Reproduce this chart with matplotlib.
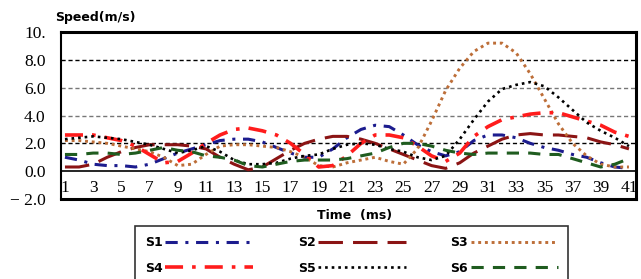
import numpy as np
import matplotlib
matplotlib.use('Agg')
import matplotlib.pyplot as plt

# speed readings (m/s) per time step
time_ms = np.arange(1, 42)
s1 = [1.0, 0.8, 0.5, 0.4, 0.4, 0.3, 0.5, 0.9, 1.3, 1.6, 1.9, 2.2, 2.3, 2.3, 2.1, 1.7, 1.3, 1.0, 1.0, 1.6,
      2.4, 3.0, 3.3, 3.2, 2.6, 1.9, 1.4, 1.1, 1.4, 2.2, 2.6, 2.6, 2.4, 2.0, 1.7, 1.5, 1.2, 1.0, 0.6, 0.3, 0.2]
s2 = [0.3, 0.3, 0.5, 1.0, 1.4, 1.7, 1.9, 1.9, 1.9, 1.8, 1.6, 1.0, 0.5, 0.1, 0.3, 0.9, 1.5, 2.0, 2.3, 2.5,
      2.5, 2.3, 2.0, 1.6, 1.2, 0.8, 0.4, 0.2, 0.6, 1.3, 1.8, 2.3, 2.6, 2.7, 2.6, 2.6, 2.5, 2.4, 2.1, 1.9, 1.6]
s3 = [2.2, 2.2, 2.1, 2.0, 1.8, 1.6, 1.4, 1.0, 0.4, 0.5, 1.2, 1.8, 1.9, 1.9, 1.8, 1.7, 1.4, 1.0, 0.4, 0.3,
      0.6, 0.8, 1.0, 0.7, 0.5, 1.6, 3.6, 5.8, 7.4, 8.6, 9.2, 9.2, 8.5, 7.0, 5.2, 3.4, 2.0, 1.1, 0.5, 0.3, 0.3]
s4 = [2.6, 2.6, 2.6, 2.4, 2.2, 1.8, 1.2, 0.6, 0.7, 1.3, 2.0, 2.6, 3.0, 3.1, 2.9, 2.6, 2.0, 1.2, 0.3, 0.4,
      1.1, 2.0, 2.6, 2.6, 2.4, 1.8, 1.1, 0.7, 1.3, 2.5, 3.2, 3.7, 3.9, 4.1, 4.2, 4.2, 3.9, 3.6, 3.3, 2.8, 2.5]
s5 = [2.3, 2.4, 2.5, 2.4, 2.3, 2.1, 1.9, 1.6, 1.3, 1.5, 1.8, 1.4, 0.8, 0.5, 0.5, 0.6, 0.9, 1.1, 1.2, 1.6,
      1.9, 2.0, 1.9, 1.6, 1.4, 1.0, 0.8, 1.1, 2.3, 3.7, 5.0, 5.9, 6.2, 6.4, 6.1, 5.3, 4.4, 3.5, 2.9, 2.4, 1.8]
s6 = [1.2, 1.2, 1.3, 1.3, 1.2, 1.3, 1.5, 1.7, 1.5, 1.4, 1.1, 1.0, 0.8, 0.4, 0.3, 0.5, 0.7, 0.8, 0.8, 0.8,
      0.9, 1.1, 1.3, 1.7, 2.0, 2.0, 1.8, 1.5, 1.3, 1.2, 1.3, 1.3, 1.3, 1.3, 1.2, 1.2, 0.9, 0.6, 0.3, 0.5, 0.9]

series_names = ['S1', 'S2', 'S3', 'S4', 'S5', 'S6']
series_vals = [s1, s2, s3, s4, s5, s6]
colors = ['#1c1c8e', '#8b1414', '#bd6e38', '#ff1c1c', '#000000', '#1f5c1f']
styles = [(0, (4, 2.5, 1, 2.5)), (0, (8, 3.3)), (0, (1, 1.3)),
          (0, (5, 2.5, 1, 2.5)), (0, (1, 1.5)), (0, (4, 3))]
widths = [2.2, 2.2, 2.1, 2.6, 1.9, 2.2]

ytick_vals = [-2, 0, 2, 4, 6, 8, 10]
ytick_text = ['\u2212 2.0', '0.0', '2.0', '4.0', '6.0', '8.0', '10.']
xtick_vals = list(range(1, 42, 2))

fig = plt.figure(figsize=(6.41, 2.79), dpi=100)
ax = fig.add_axes([61 / 641, 1 - 199 / 279, 575 / 641, 167 / 279])

# background grid lines
for g in [2, 4, 6, 8]:
    col = '#000000' if g in (2, 8) else '#777777'
    ax.axhline(g, color=col, lw=1.0, ls=(0, (3, 2)), zorder=1)
ax.axhline(0, color='black', lw=1.2, zorder=1)

lines = []
for name, vals, c, st, w in zip(series_names, series_vals, colors, styles, widths):
    ln, = ax.plot(time_ms, vals, color=c, ls=st, lw=w, label=name, zorder=3)
    lines.append(ln)

ax.set_xlim(0.72, 41.5)
ax.set_ylim(-2.0, 9.93)
ax.set_xticks([])
ax.set_yticks(ytick_vals)
ax.set_yticklabels(ytick_text, family='Liberation Serif', fontsize=12.5)
ax.tick_params(axis='y', length=0, pad=11)
for sp in ax.spines.values():
    sp.set_linewidth(2.2)
ax.spines['left'].set_linewidth(1.5)

# x labels sit inside the box, below the zero line
for t in xtick_vals:
    ax.text(t, -1.2, str(t), ha='center', va='center',
            family='Liberation Serif', fontsize=12.5)

fig.text(55 / 641, 1 - 17 / 279, 'Speed(m/s)', ha='left', va='center',
         fontsize=9, fontweight='bold')
fig.text(355 / 641, 1 - 215 / 279, 'Time  (ms)', ha='center', va='center',
         fontsize=9, fontweight='bold')

# legend is filled column by column, so reorder to get S1 S2 S3 on the first row
order = [0, 3, 1, 4, 2, 5]
leg = fig.legend([lines[i] for i in order], [series_names[i] for i in order],
                 loc='upper left', bbox_to_anchor=(135 / 641, 1 - 226 / 279),
                 ncol=3, markerfirst=False, frameon=True, fancybox=False,
                 edgecolor='black', handlelength=7.0, handletextpad=0.2,
                 columnspacing=3.6, labelspacing=1.0, borderaxespad=0,
                 borderpad=0.8, prop={'weight': 'bold', 'size': 9})
leg.get_frame().set_linewidth(1.2)

fig.savefig('out.png', dpi=100)
